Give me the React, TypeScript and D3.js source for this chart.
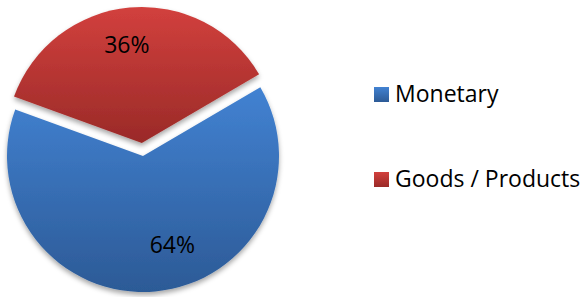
import React from 'react'
import * as d3 from 'd3'

const categories = ['Monetary', 'Goods / Products']
const values = [64, 36]
const labels = ['64%', '36%']
const topColors = ['#4282d2', '#d2403d']
const bottomColors = ['#2c5a96', '#9a2a28']
// Excel "best fit" labels sit off the centroid; nudge in degrees
const labelNudge = [-13, -3.5]
const labelRadius = [0.69, 0.73]

const W = 586
const H = 297
const cx = 143
const cy = 156
const R = 136
const explode = 13
const startDeg = 59.6

export default () => {
  const pie = d3
    .pie<number>()
    .sort(null)
    .startAngle((startDeg * Math.PI) / 180)
    .endAngle((startDeg * Math.PI) / 180 + 2 * Math.PI)
  const arcs = pie(values)
  const arc = d3.arc<d3.PieArcDatum<number>>().innerRadius(0).outerRadius(R)

  const font = '"Open Sans", "Liberation Sans", sans-serif'

  return (
    <svg width={W} height={H} style={{ position: 'absolute', left: 0, top: 0 }}>
      <defs>
        {categories.map((c, i) => (
          <linearGradient key={c} id={'g' + i} x1="0" y1="0" x2="0" y2="1">
            <stop offset="0%" stopColor={topColors[i]} />
            <stop offset="100%" stopColor={bottomColors[i]} />
          </linearGradient>
        ))}
        <filter id="sh" x="-20%" y="-20%" width="140%" height="140%">
          <feDropShadow dx="0" dy="3" stdDeviation="2.5" floodColor="#000" floodOpacity="0.35" />
        </filter>
      </defs>
      {arcs.map((a, i) => {
        const mid = (a.startAngle + a.endAngle) / 2
        const off = i === 1 ? explode : 0
        const ox = cx + off * Math.sin(mid)
        const oy = cy - off * Math.cos(mid)
        const la = mid + (labelNudge[i] * Math.PI) / 180
        const lr = R * labelRadius[i]
        return (
          <g key={i} transform={`translate(${ox},${oy})`}>
            <path d={arc(a) as string} fill={`url(#g${i})`} filter="url(#sh)" />
            <text
              x={lr * Math.sin(la)}
              y={-lr * Math.cos(la)}
              dy="0.35em"
              textAnchor="middle"
              fontFamily={font}
              fontSize={23}
              fill="#000"
            >
              {labels[i]}
            </text>
          </g>
        )
      })}
      {categories.map((c, i) => (
        <g key={c} transform={`translate(374,${87 + i * 85})`}>
          <rect width={15} height={15} fill={`url(#g${i})`} />
          <text x={21} y={15} fontFamily={font} fontSize={23} fill="#000">
            {c}
          </text>
        </g>
      ))}
    </svg>
  )
}
